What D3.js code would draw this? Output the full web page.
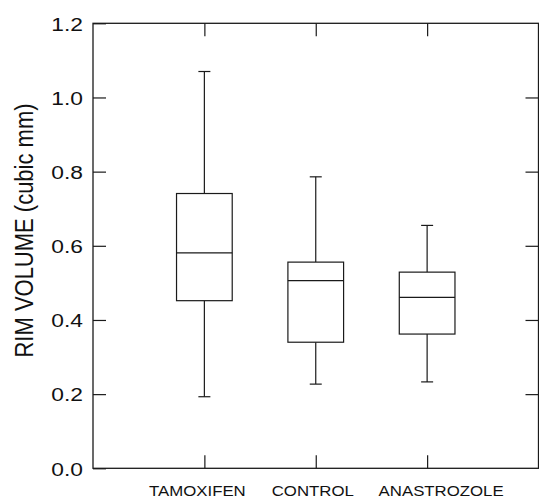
<!DOCTYPE html>
<html>
<head>
<meta charset="utf-8">
<script src="https://cdn.jsdelivr.net/npm/d3@7"></script>
<style>
  body { margin: 0; background: #fff; }
  text { font-family: "Liberation Sans", Arial, Helvetica, sans-serif; fill: #111; }
</style>
</head>
<body>
<div id="chart"></div>
<script>
// Box plot values
var groups = ["TAMOXIFEN", "CONTROL", "ANASTROZOLE"];
var whiskerLow = [0.193, 0.227, 0.233];
var q1 = [0.452, 0.340, 0.362];
var median = [0.581, 0.506, 0.461];
var q3 = [0.741, 0.556, 0.529];
var whiskerHigh = [1.070, 0.786, 0.655];
var yTicks = [0.0, 0.2, 0.4, 0.6, 0.8, 1.0, 1.2];

var data = groups.map(function(g, i) {
  return { name: g, pos: i + 1, lo: whiskerLow[i], q1: q1[i], med: median[i], q3: q3[i], hi: whiskerHigh[i] };
});

// Layout (plot frame edges in pixels)
var W = 539, H = 498;
var plotL = 93, plotR = 538.5, plotT = 23.3, plotB = 468.3;
var stretch = 1.2;   // text in the reference is widened horizontally
var labelShift = [-7, -3, 14];

var svg = d3.select("#chart").append("svg")
    .attr("width", W)
    .attr("height", H);

var x = d3.scaleLinear().domain([0, 4]).range([plotL, plotR]);
var y = d3.scaleLinear().domain([0, 1.2]).range([plotB, plotT]);

// Ticks (all pointing inward)
var yAxisL = svg.append("g")
    .attr("transform", "translate(" + plotL + ",0)")
    .call(d3.axisLeft(y).tickValues(yTicks).tickSize(-13).tickFormat(d3.format(".1f")));
yAxisL.selectAll("text")
    .attr("x", null)
    .attr("dy", null)
    .attr("fill", "#111")
    .attr("transform", "translate(-10,6.8) scale(" + stretch + ",1)")
    .style("text-anchor", "end")
    .style("font-size", "19px");

svg.append("g")
    .attr("transform", "translate(" + plotR + ",0)")
    .call(d3.axisRight(y).tickValues(yTicks.slice(1, -1)).tickSize(-13).tickFormat(""));

svg.append("g")
    .attr("transform", "translate(0," + plotB + ")")
    .call(d3.axisBottom(x).tickValues([1, 2, 3]).tickSize(-13).tickFormat(""));
svg.append("g")
    .attr("transform", "translate(0," + plotT + ")")
    .call(d3.axisTop(x).tickValues([1, 2, 3]).tickSize(-13).tickFormat(""));

svg.selectAll(".domain").remove();
svg.selectAll(".tick line").attr("stroke", "#1a1a1a").attr("stroke-width", 1.2);

// Frame
svg.append("rect")
    .attr("x", plotL)
    .attr("y", plotT)
    .attr("width", plotR - plotL)
    .attr("height", plotB - plotT)
    .attr("fill", "none")
    .attr("stroke", "#1a1a1a")
    .attr("stroke-width", 1.3);

// Group labels
svg.selectAll(".glabel")
    .data(data)
  .enter().append("text")
    .attr("class", "glabel")
    .attr("transform", function(d, i) {
      return "translate(" + (x(d.pos) + labelShift[i]) + ",496) scale(" + stretch + ",1)";
    })
    .style("text-anchor", "middle")
    .style("font-size", "14px")
    .text(function(d) { return d.name; });

// Y axis title
svg.append("text")
    .attr("transform", "translate(33,230.5) scale(" + stretch + ",1) rotate(-90)")
    .style("text-anchor", "middle")
    .style("font-size", "22px")
    .text("RIM VOLUME (cubic mm)");

// Boxes
var boxHalf = (x(1.25) - x(1)), capHalf = 6;
var box = svg.selectAll(".box")
    .data(data)
  .enter().append("g")
    .attr("class", "box")
    .attr("stroke", "#1a1a1a")
    .attr("stroke-width", 1.2)
    .attr("fill", "none");

// whiskers
box.append("line")
    .attr("x1", function(d) { return x(d.pos); })
    .attr("x2", function(d) { return x(d.pos); })
    .attr("y1", function(d) { return y(d.q3); })
    .attr("y2", function(d) { return y(d.hi); });
box.append("line")
    .attr("x1", function(d) { return x(d.pos); })
    .attr("x2", function(d) { return x(d.pos); })
    .attr("y1", function(d) { return y(d.q1); })
    .attr("y2", function(d) { return y(d.lo); });
// caps
box.append("line")
    .attr("x1", function(d) { return x(d.pos) - capHalf; })
    .attr("x2", function(d) { return x(d.pos) + capHalf; })
    .attr("y1", function(d) { return y(d.hi); })
    .attr("y2", function(d) { return y(d.hi); });
box.append("line")
    .attr("x1", function(d) { return x(d.pos) - capHalf; })
    .attr("x2", function(d) { return x(d.pos) + capHalf; })
    .attr("y1", function(d) { return y(d.lo); })
    .attr("y2", function(d) { return y(d.lo); });
// box
box.append("rect")
    .attr("x", function(d) { return x(d.pos) - boxHalf; })
    .attr("width", boxHalf * 2)
    .attr("y", function(d) { return y(d.q3); })
    .attr("height", function(d) { return y(d.q1) - y(d.q3); })
    .attr("fill", "#fff");
// median
box.append("line")
    .attr("x1", function(d) { return x(d.pos) - boxHalf; })
    .attr("x2", function(d) { return x(d.pos) + boxHalf; })
    .attr("y1", function(d) { return y(d.med); })
    .attr("y2", function(d) { return y(d.med); });
</script>
</body>
</html>
